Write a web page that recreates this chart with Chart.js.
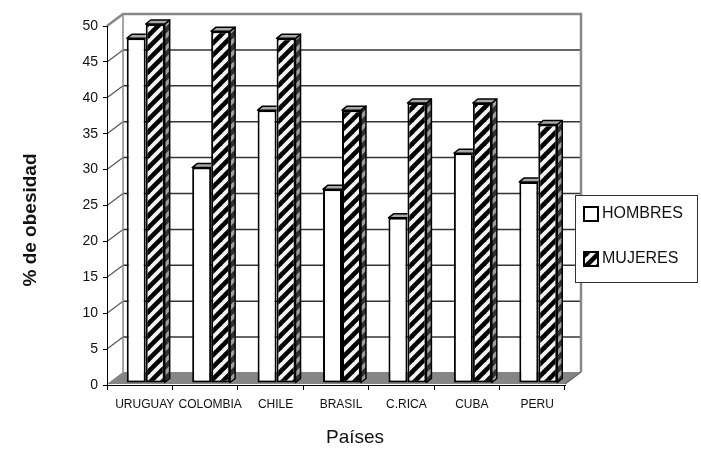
<!DOCTYPE html>
<html>
<head>
<meta charset="utf-8">
<script src="https://cdn.jsdelivr.net/npm/chart.js@4/dist/chart.umd.min.js"></script>
<style>
  html, body { margin: 0; padding: 0; background: #fff; }
  #wrap { width: 701px; height: 450px; }
</style>
</head>
<body>
<div id="wrap"><canvas id="c" width="701" height="450"></canvas></div>
<script>
// Obesity rates by country and sex
const categories = ['URUGUAY', 'COLOMBIA', 'CHILE', 'BRASIL', 'C.RICA', 'CUBA', 'PERU'];
const hombres = [48, 30, 38, 27, 23, 32, 28];
const mujeres = [50, 49, 48, 38, 39, 39, 36];
const seriesNames = ['HOMBRES', 'MUJERES'];
const yMin = 0, yMax = 50, yStep = 5;

const FONT = '"Liberation Sans", Arial, Helvetica, sans-serif';

// pseudo-3D geometry
const WALL = { dx: 16, dy: -12 };   // depth of back wall relative to front axes
const SHIFT = { dx: 6, dy: -2 };    // plane the bars stand on
const FACE = { dx: 5, dy: -4 };     // bar depth (top / side faces)

// diagonal hatch used for the second series
function makeHatch(bg) {
  const s = 12;
  const c = document.createElement('canvas');
  c.width = s; c.height = s;
  const g = c.getContext('2d');
  g.fillStyle = bg;
  g.fillRect(0, 0, s, s);
  g.strokeStyle = '#000';
  g.lineWidth = 4.6;
  g.lineCap = 'square';
  [[-s, s, s, -s], [0, s, s, 0], [0, 2 * s, 2 * s, 0]].forEach(([a, b, c2, d]) => {
    g.beginPath(); g.moveTo(a, b); g.lineTo(c2, d); g.stroke();
  });
  return g.createPattern(c, 'repeat');
}
const ctxMain = document.getElementById('c').getContext('2d');
const hatch = makeHatch('#f2f2f2');

const walls = {
  id: 'walls',
  beforeDraw(chart) {
    const { ctx, chartArea: a, scales: { y } } = chart;
    ctx.save();
    ctx.fillStyle = '#fff';
    ctx.fillRect(0, 0, chart.width, chart.height);

    const y0 = y.getPixelForValue(yMin);
    const yTop = y.getPixelForValue(yMax);

    // floor
    ctx.fillStyle = '#858585';
    ctx.beginPath();
    ctx.moveTo(a.left, y0 - 1);
    ctx.lineTo(a.right, y0 - 1);
    ctx.lineTo(a.right + WALL.dx, y0 - 1 + WALL.dy);
    ctx.lineTo(a.left + WALL.dx, y0 - 1 + WALL.dy);
    ctx.closePath();
    ctx.fill();

    // back wall gridlines and left wall diagonals
    for (let v = yMin + yStep; v < yMax; v += yStep) {
      const py = y.getPixelForValue(v);
      ctx.strokeStyle = '#333';
      ctx.lineWidth = 1.5;
      ctx.beginPath();
      ctx.moveTo(a.left + WALL.dx, py + WALL.dy);
      ctx.lineTo(a.right + WALL.dx, py + WALL.dy);
      ctx.stroke();
      ctx.strokeStyle = '#555';
      ctx.lineWidth = 1.2;
      ctx.beginPath();
      ctx.moveTo(a.left, py);
      ctx.lineTo(a.left + WALL.dx, py + WALL.dy);
      ctx.stroke();
    }

    // wall outline
    ctx.strokeStyle = '#888';
    ctx.lineWidth = 2.5;
    ctx.beginPath();
    ctx.moveTo(a.left, yTop);
    ctx.lineTo(a.left + WALL.dx, yTop + WALL.dy);
    ctx.lineTo(a.right + WALL.dx, yTop + WALL.dy);
    ctx.lineTo(a.right + WALL.dx, y0 - 1 + WALL.dy);
    ctx.stroke();
    ctx.lineWidth = 1.5;
    ctx.beginPath();
    ctx.moveTo(a.left + WALL.dx, yTop + WALL.dy);
    ctx.lineTo(a.left + WALL.dx, y0 - 1 + WALL.dy);
    ctx.stroke();
    ctx.strokeStyle = '#666';
    ctx.beginPath();
    ctx.moveTo(a.right, y0 - 1);
    ctx.lineTo(a.right + WALL.dx, y0 - 1 + WALL.dy);
    ctx.stroke();
    ctx.restore();
  },
  beforeDatasetsDraw(chart) {
    chart.ctx.save();
    chart.ctx.translate(SHIFT.dx, SHIFT.dy);
  },
  afterDatasetDraw(chart, args) {
    const { ctx } = chart;
    const ds = chart.data.datasets[args.index];
    // only the right-most bar of each group shows its side; the others
    // are partly hidden behind the neighbouring bar's front face
    const rightmost = args.index === chart.data.datasets.length - 1;
    args.meta.data.forEach(bar => {
      const { x, y, base, width } = bar.getProps(['x', 'y', 'base', 'width'], true);
      const x0 = x - width / 2, x1 = x + width / 2;
      ctx.save();
      ctx.lineWidth = 1.5;
      ctx.strokeStyle = '#000';
      ctx.lineJoin = 'round';
      if (!rightmost) {
        ctx.beginPath();
        ctx.rect(x0 - 5, y - 20, width + 5, 22);
        ctx.clip();
      }
      if (rightmost) {
        ctx.beginPath();
        ctx.moveTo(x1, y);
        ctx.lineTo(x1 + FACE.dx, y + FACE.dy);
        ctx.lineTo(x1 + FACE.dx, base + FACE.dy);
        ctx.lineTo(x1, base);
        ctx.closePath();
        ctx.fillStyle = ds.backgroundColor;
        ctx.fill();
        ctx.fillStyle = 'rgba(90,90,90,0.55)';
        ctx.fill();
        ctx.stroke();
      }
      // top face
      ctx.beginPath();
      ctx.moveTo(x0, y);
      ctx.lineTo(x0 + FACE.dx, y + FACE.dy);
      ctx.lineTo(x1 + FACE.dx, y + FACE.dy);
      ctx.lineTo(x1, y);
      ctx.closePath();
      ctx.fillStyle = '#a8a8a8';
      ctx.fill();
      ctx.stroke();
      ctx.restore();
    });
  },
  afterDatasetsDraw(chart) {
    chart.ctx.restore();
  },
  afterDraw(chart) {
    const { ctx } = chart;
    ctx.save();
    // axis titles
    ctx.fillStyle = '#111';
    ctx.textAlign = 'center';
    ctx.textBaseline = 'middle';
    ctx.font = '19px ' + FONT;
    ctx.fillText('Países', 355, 438);
    ctx.translate(31, 220);
    ctx.rotate(-Math.PI / 2);
    ctx.font = 'bold 19px ' + FONT;
    ctx.fillText('% de obesidad', 0, 0);
    ctx.restore();

    // legend
    ctx.save();
    const L = { x: 575.5, y: 195.5, w: 122, h: 87 };
    ctx.fillStyle = '#fff';
    ctx.fillRect(L.x, L.y, L.w, L.h);
    ctx.strokeStyle = '#333';
    ctx.lineWidth = 1;
    ctx.strokeRect(L.x, L.y, L.w, L.h);
    chart.data.datasets.forEach((ds, i) => {
      const sy = 207 + i * 45;
      ctx.fillStyle = ds.backgroundColor;
      ctx.fillRect(584, sy, 14, 14);
      ctx.lineWidth = 2;
      ctx.strokeStyle = '#000';
      ctx.strokeRect(584, sy, 14, 14);
      ctx.fillStyle = '#111';
      ctx.font = '16px ' + FONT;
      ctx.textAlign = 'left';
      ctx.textBaseline = 'middle';
      ctx.fillText(ds.label, 602, sy + 7);
    });
    ctx.restore();
  }
};

new Chart(ctxMain, {
  type: 'bar',
  data: {
    labels: categories,
    datasets: [
      { label: seriesNames[0], data: hombres, backgroundColor: '#fff', borderColor: '#000',
        borderWidth: 2, borderSkipped: false, clip: false },
      { label: seriesNames[1], data: mujeres, backgroundColor: hatch, borderColor: '#000',
        borderWidth: 2, borderSkipped: false, clip: false }
    ]
  },
  options: {
    responsive: false,
    animation: false,
    events: [],
    layout: { padding: { left: 0, top: 26, right: 136, bottom: 0 } },
    datasets: { bar: { categoryPercentage: 0.58, barPercentage: 1.0 } },
    plugins: { legend: { display: false }, tooltip: { enabled: false } },
    scales: {
      x: {
        type: 'category',
        offset: true,
        grid: { offset: true, drawOnChartArea: false, drawTicks: true, tickLength: 5, color: '#000' },
        border: { color: '#000', width: 1 },
        ticks: { labelOffset: 5, padding: 7, color: '#111', maxRotation: 0, autoSkip: false,
                 font: { family: FONT, size: 12 } },
        afterFit(scale) { scale.height = 65; }
      },
      y: {
        min: yMin, max: yMax,
        grid: { drawOnChartArea: false, drawTicks: true, tickLength: 4, color: '#000' },
        border: { color: '#000', width: 1 },
        ticks: { stepSize: yStep, padding: 5, color: '#111', font: { family: FONT, size: 14 } },
        afterFit(scale) { scale.width = 107; }
      }
    }
  },
  plugins: [walls]
});
</script>
</body>
</html>
